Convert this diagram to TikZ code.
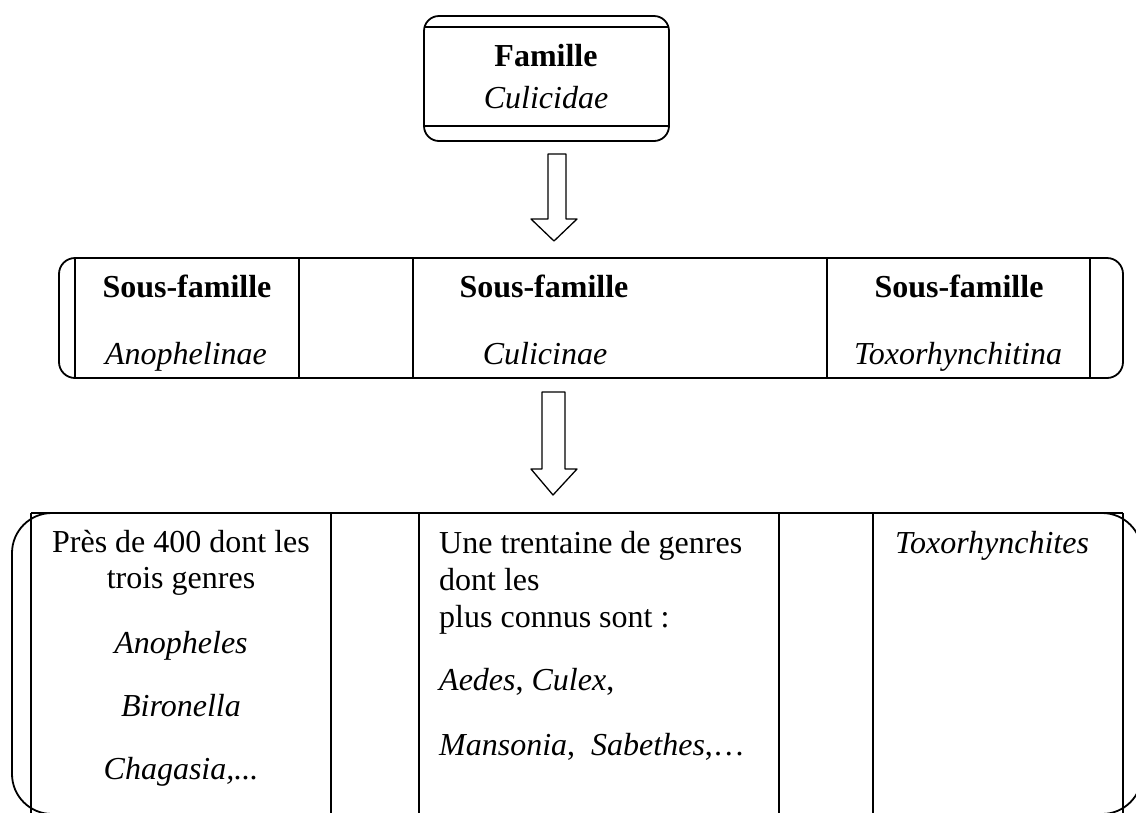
\documentclass[tikz,border=0pt]{standalone}
\usepackage{fontspec}
\setmainfont{Liberation Serif}
\begin{document}
\begin{tikzpicture}[x=1pt,y=-1pt,line join=round,
  frame/.style={line width=1.8pt},
  blockarrow/.style={line width=1.3pt},
  txt/.style={inner sep=0pt,font=\fontsize{32}{36.5}\selectfont},
  ctxt/.style={txt,anchor=base},
  ltxt/.style={txt,anchor=base west}]
\useasboundingbox (0,0) rectangle (1136,812);
\clip (0,0) rectangle (1136,812);

% ---- top box
\draw[frame,rounded corners=15pt] (424,16) rectangle (669,141);
\draw[frame] (424,27) -- (669,27);
\draw[frame] (424,126) -- (669,126);
\node[ctxt] (fam) at (546,66) {\textbf{Famille}};
\node[ctxt] (cul) at (546,108) {\textit{Culicidae}};

% ---- arrow 1
\coordinate (a1) at (557,154);
\coordinate (t1) at (554,241);
\draw[blockarrow] (548,154) -- (566,154) -- (566,219) -- (577,219) -- (t1) -- (531,219) -- (548,219) -- cycle;

% ---- middle band
\draw[frame,rounded corners=16pt] (59,258) rectangle (1123,378);
\foreach \x in {75,299,413,827,1090} \draw[frame] (\x,258) -- (\x,378);
\node[ctxt] (sf1) at (187,297) {\textbf{Sous-famille}};
\node[ctxt] (sf2) at (544,297) {\textbf{Sous-famille}};
\node[ctxt] (sf3) at (959,297) {\textbf{Sous-famille}};
\begin{scope}
\clip (0,0) rectangle (1136,370);
\node[ctxt] (ano) at (186,364) {\textit{Anophelinae}};
\node[ctxt] (culi) at (545,364) {\textit{Culicinae}};
\node[ctxt] (tox) at (958,364) {\textit{Toxorhynchitina}};
\end{scope}

% ---- arrow 2
\coordinate (t2) at (553,495);
\draw[blockarrow] (542,392) -- (565,392) -- (565,469) -- (577,469) -- (t2) -- (531,469) -- (542,469) -- cycle;

% ---- bottom band
\draw[frame,rounded corners=40pt] (12,513) rectangle (1142,814);
\draw[frame] (31,513) -- (1123,513);
\foreach \x in {31,331,419,779,873,1123} \draw[frame] (\x,513) -- (\x,830);

\node[ctxt] (c1a) at (181,552) {Près de 400 dont les};
\node[ctxt] (c1b) at (181,588) {trois genres};
\node[ctxt] (c1c) at (181,653) {\textit{Anopheles}};
\node[ctxt] (c1d) at (181,716) {\textit{Bironella}};
\node[ctxt] (c1e) at (181,779) {\textit{Chagasia,...}};

\node[ltxt] (c3a) at (439,553) {Une trentaine de genres};
\node[ltxt] (c3b) at (439,590) {dont les};
\node[ltxt] (c3c) at (439,627) {plus connus sont :};
\node[ltxt] (c3d) at (439,690) {\textit{Aedes}, \textit{Culex},};
\node[ltxt] (c3e) at (439,755) {\textit{Mansonia},\ \ \textit{Sabethes},…};

\node[ltxt] (c5a) at (895,553) {\textit{Toxorhynchites}};
\end{tikzpicture}
\end{document}
